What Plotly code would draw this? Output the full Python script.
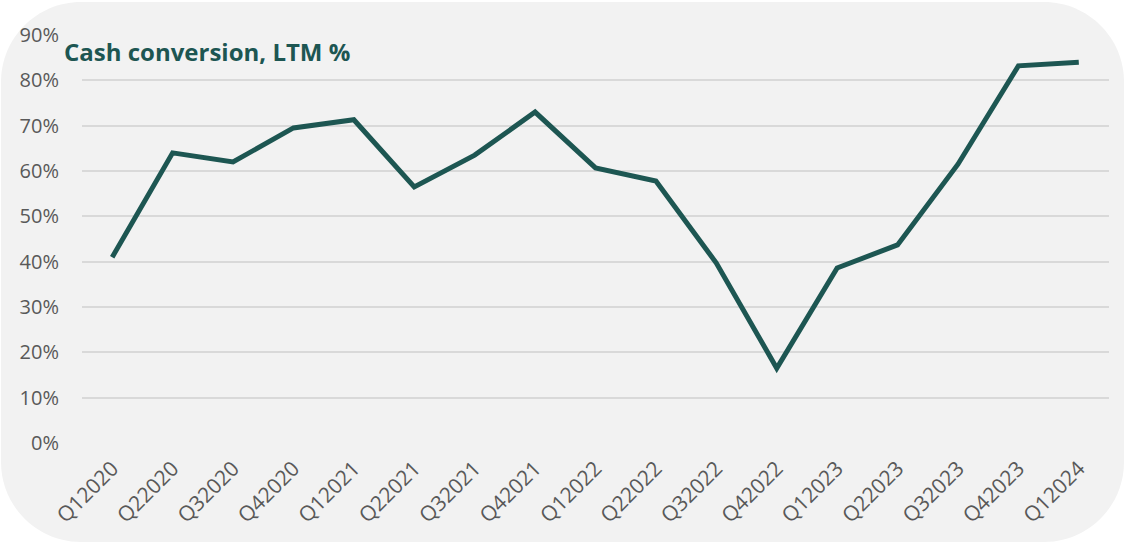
import plotly.graph_objects as go

quarters = ["Q12020", "Q22020", "Q32020", "Q42020", "Q12021", "Q22021", "Q32021", "Q42021",
            "Q12022", "Q22022", "Q32022", "Q42022", "Q12023", "Q22023", "Q32023", "Q42023", "Q12024"]
cash_conversion = [41.0, 64.0, 62.0, 69.5, 71.3, 56.5, 63.5, 73.0,
                   60.7, 57.8, 39.7, 16.5, 38.6, 43.7, 61.5, 83.2, 84.0]
y_ticks = [0, 10, 20, 30, 40, 50, 60, 70, 80, 90]
y_tick_text = [f"{v}%" for v in y_ticks]

W, H = 1125, 544
L, R, T, B = 82, 16, 35, 101
pw, ph = W - L - R, H - T - B

def px(x):
    return (x - L) / pw

def py(y):
    return (H - B - y) / ph

# rounded background rectangle in pixel coords -> paper coords
x0, y0, x1, y1, r = 1, 2, 1124, 542, 80
k = 0.5523 * r
pts = [
    ("M", [(x0 + r, y0)]),
    ("L", [(x1 - r, y0)]),
    ("C", [(x1 - r + k, y0), (x1, y0 + r - k), (x1, y0 + r)]),
    ("L", [(x1, y1 - r)]),
    ("C", [(x1, y1 - r + k), (x1 - r + k, y1), (x1 - r, y1)]),
    ("L", [(x0 + r, y1)]),
    ("C", [(x0 + r - k, y1), (x0, y1 - r + k), (x0, y1 - r)]),
    ("L", [(x0, y0 + r)]),
    ("C", [(x0, y0 + r - k), (x0 + r - k, y0), (x0 + r, y0)]),
]
path = ""
for cmd, ps in pts:
    path += cmd + " " + " ".join(f"{px(a):.5f},{py(b):.5f}" for a, b in ps) + " "
path += "Z"

fig = go.Figure()
fig.add_trace(go.Scatter(
    x=quarters, y=cash_conversion, mode="lines",
    line=dict(color="#1d5652", width=5),
    hoverinfo="x+y",
))

fig.update_layout(
    width=W, height=H,
    margin=dict(l=L, r=R, t=T, b=B),
    paper_bgcolor="white",
    plot_bgcolor="rgba(0,0,0,0)",
    showlegend=False,
    font=dict(family="Open Sans", color="#595959", size=20),
    shapes=[dict(type="path", xref="paper", yref="paper", path=path,
                 fillcolor="#f2f2f2", line=dict(width=0), layer="below")],
    annotations=[dict(text="<b>Cash conversion, LTM %</b>", xref="paper", yref="paper",
                      x=px(62), y=py(52), xanchor="left", yanchor="middle",
                      showarrow=False, font=dict(family="Open Sans", size=24, color="#1d5652"))],
)
fig.update_xaxes(
    type="category", range=[-0.5, 16.5], showgrid=False, showline=False, zeroline=False,
    tickangle=-45, tickfont=dict(size=21, color="#595959"), ticks="", ticklabelstandoff=8,
)
fig.update_yaxes(
    range=[0, 90], tickvals=y_ticks, ticktext=y_tick_text,
    showgrid=True, gridcolor="#d9d9d9", gridwidth=1.5, zeroline=False, showline=False,
    tickfont=dict(size=20, color="#595959"), ticks="", ticklabelstandoff=22,
)

fig.write_html("out.html", config={"displayModeBar": False},
               post_script="document.body.style.margin='0';document.body.style.overflow='hidden';")
